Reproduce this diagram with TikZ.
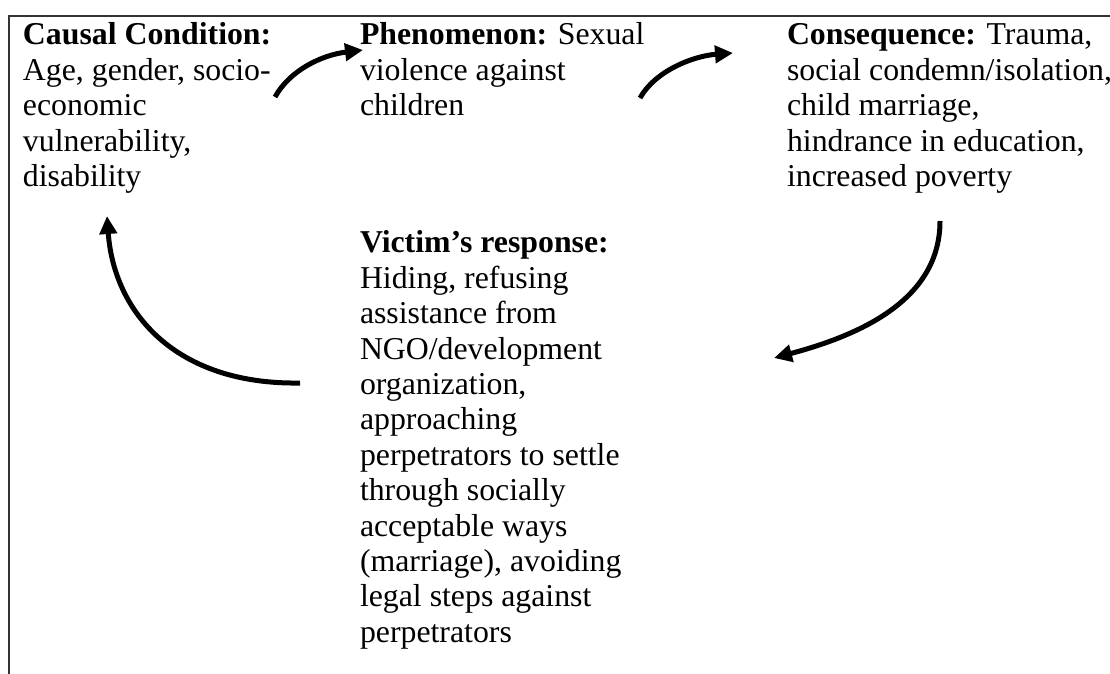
\documentclass[tikz,border=0pt]{standalone}
\usepackage{fontspec}
\setmainfont{Liberation Serif}
\usetikzlibrary{arrows.meta}
\tikzset{
  txt/.style={anchor=north west, inner sep=0pt, outer sep=0pt, align=left,
    font=\fontsize{31.8}{35.4}\selectfont, text=black},
  flow/.style={line width=5pt, black,
    -{Triangle[length=18pt,width=17pt]}},
  frame/.style={line width=2pt, black!80}
}
\begin{document}
\begin{tikzpicture}[x=1pt,y=-1pt]
\useasboundingbox (0,0) rectangle (1110,674);
% frame
\coordinate (fTR) at (1110,16);
\coordinate (fTL) at (9,16);
\coordinate (fBL) at (9,674);
\draw[frame] (fTR) -- (fTL) -- (fBL);
% texts
\node[txt] (cause) at (23,20.1) {\strut\textbf{Causal Condition:}\\Age, gender, socio-\\economic\\vulnerability,\\disability};
\node[txt] (phen) at (360,20.1) {\strut\textbf{Phenomenon:} Sexual\\violence against\\children};
\node[txt] (cons) at (787,20.1) {\strut\textbf{Consequence:} Trauma,\\social condemn/isolation,\\child marriage,\\hindrance in education,\\increased poverty};
\node[txt] (resp) at (360,228.1) {\strut\textbf{Victim’s response:}\\Hiding, refusing\\assistance from\\NGO/development\\organization,\\approaching\\perpetrators to settle\\through socially\\acceptable ways\\(marriage), avoiding\\legal steps against\\perpetrators};
% arrow end points
\coordinate (a1s) at (275,97);
\coordinate (a1e) at (363,50);
\coordinate (a2s) at (640,98);
\coordinate (a2e) at (733,53);
\coordinate (a3s) at (940,221);
\coordinate (a3e) at (774,358);
\coordinate (a4s) at (300,383);
\coordinate (a4e) at (107,216);
% arrows
\draw[flow] (a1s) .. controls (290,70) and (322,55) .. (a1e);
\draw[flow] (a2s) .. controls (655,71) and (693,56) .. (a2e);
\draw[flow] (a3s) .. controls (940,300) and (860,335) .. (a3e);
\draw[flow] (a4s) .. controls (175,385) and (114,312) .. (a4e);
\end{tikzpicture}
\end{document}
